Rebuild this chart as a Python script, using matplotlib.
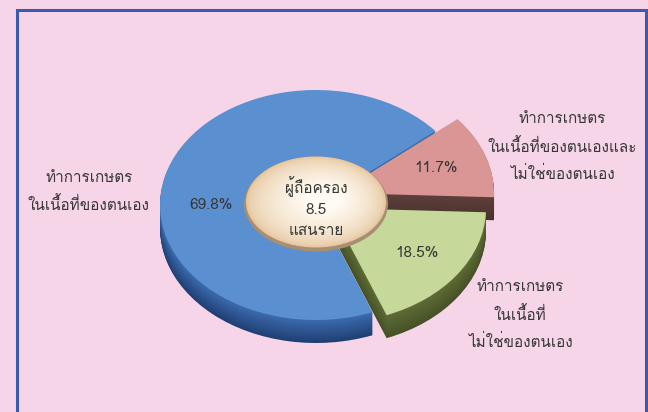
import matplotlib
matplotlib.use("Agg")
import matplotlib.pyplot as plt
from matplotlib import font_manager as fm
from matplotlib.patches import Wedge, Ellipse, Rectangle
import numpy as np

# data
shares = [69.8, 18.5, 11.7]
pct_labels = ["69.8%", "18.5%", "11.7%"]
cat_labels = [
    "ทำการเกษตร\nในเนื้อที่ของตนเอง",
    "ทำการเกษตร\nในเนื้อที่\nไม่ใช่ของตนเอง",
    "ทำการเกษตร\nในเนื้อที่ของตนเองและ\nไม่ใช่ของตนเอง",
]
center_text = "ผู้ถือครอง\n8.5\nแสนราย"

# style
top_colors = ["#5A8FD0", "#C6D99B", "#DA9694"]
side_top = ["#3C6CAE", "#5F6C37", "#5E403B"]
side_bot = ["#1F3F73", "#465226", "#4A302C"]
offsets_px = [(0, 0), (14, 3), (22, -12)]   # explode, in pixels (right, down)
W, H = 648, 412
cx, cy, rx, ry = 316, 205, 156, 115
depth = 23
start = 40

names = {f.name for f in fm.fontManager.ttflist}
thai = next((n for n in ["Loma", "Sarabun", "Noto Sans Thai"] if n in names), "DejaVu Sans")
plt.rcParams["font.family"] = [thai, "DejaVu Sans"]

fig = plt.figure(figsize=(W / 100, H / 100), dpi=100, facecolor="#F6D5E8")
ax = fig.add_axes([0, 0, 1, 1])
ax.set_xlim(-cx / rx, (W - cx) / rx)
ax.set_ylim(-(H - cy) / ry, cy / ry)
ax.axis("off")

fig.patches.append(Rectangle((17 / W, -0.05), (646 - 17) / W, 1.05 - 10 / H,
                             transform=fig.transFigure, fill=False,
                             edgecolor="#3D5AAE", linewidth=2.2))

# wedge angles from the data
total = sum(shares)
angles = []
a = start
for v in shares:
    span = 360 * v / total
    angles.append((a, a + span))
    a += span


def mix(c1, c2, t):
    c1 = np.array(matplotlib.colors.to_rgb(c1))
    c2 = np.array(matplotlib.colors.to_rgb(c2))
    return tuple(c1 * (1 - t) + c2 * t)


# side walls, deepest layer first
for k in range(depth, 0, -1):
    t = k / depth
    for i, (t1, t2) in enumerate(angles):
        dx, dy = offsets_px[i]
        ax.add_patch(Wedge((dx / rx, -(dy + k) / ry), 1, t1, t2,
                           facecolor=mix(side_top[i], side_bot[i], t),
                           edgecolor="none"))

# top faces
for i, (t1, t2) in enumerate(angles):
    dx, dy = offsets_px[i]
    ax.add_patch(Wedge((dx / rx, -dy / ry), 1, t1, t2,
                       facecolor=top_colors[i], edgecolor="none"))

# raised centre button
hx, hy, hrx, hry = 316, 202, 70, 45.5
ax.add_patch(Ellipse(((hx - cx) / rx, -(hy + 2 - cy) / ry), 2 * (hrx + 2) / rx, 2 * (hry + 2) / ry,
                     facecolor="#A88E72", edgecolor="none"))
n = 24
for j in range(n):
    t = j / (n - 1)
    s = 1 - 0.75 * t
    ex = hx + 8 * t
    ey = hy - 3 * t
    ax.add_patch(Ellipse(((ex - cx) / rx, -(ey - cy) / ry), 2 * hrx * s / rx, 2 * hry * s / ry,
                         facecolor=mix("#E6C7A0", "#FFFBF2", t ** 0.6), edgecolor="none"))


def px(x, y):
    return x / W, 1 - y / H


txt = "#383838"
fs = 11
fig.text(*px(316, 207), center_text, ha="center", va="center", fontsize=fs,
         color=txt, linespacing=1.6)

pct_pos = [(211, 205), (417, 253), (436, 168)]
for (x, y), s in zip(pct_pos, pct_labels):
    fig.text(*px(x, y), s, ha="center", va="center", fontsize=fs, color=txt)

lab_pos = [(89, 192), (520, 315), (562, 147)]
for (x, y), s in zip(lab_pos, cat_labels):
    fig.text(*px(x, y), s, ha="center", va="center", fontsize=fs, color=txt,
             linespacing=1.85)

fig.savefig("out.png", dpi=100, facecolor=fig.get_facecolor())
